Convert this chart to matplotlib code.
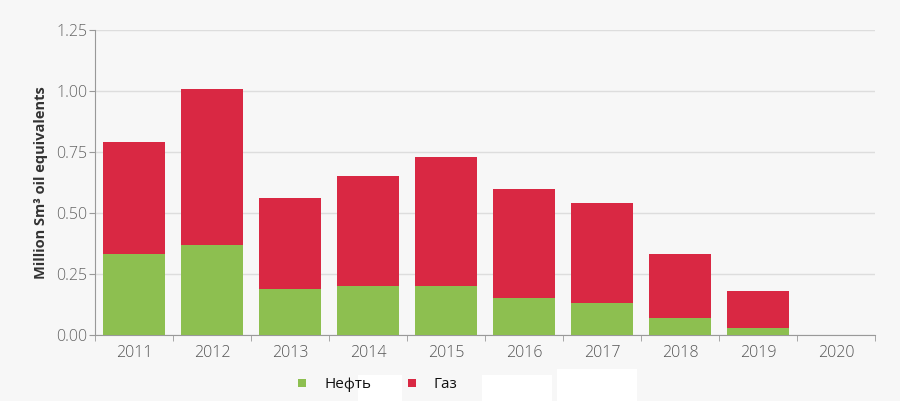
import matplotlib
matplotlib.use("Agg")
import matplotlib.pyplot as plt
from matplotlib.patches import Rectangle
import numpy as np

years = ["2011", "2012", "2013", "2014", "2015", "2016", "2017", "2018", "2019", "2020"]
oil = [0.33, 0.37, 0.19, 0.20, 0.20, 0.15, 0.13, 0.07, 0.03, 0.0]
gas = [0.46, 0.64, 0.37, 0.45, 0.53, 0.45, 0.41, 0.26, 0.15, 0.0]
yticks = [0.0, 0.25, 0.50, 0.75, 1.00, 1.25]
ytick_labels = ["0.00", "0.25", "0.50", "0.75", "1.00", "1.25"]

plt.rcParams['font.family'] = ['Open Sans', 'DejaVu Sans']
bg = "#f7f7f7"
fig = plt.figure(figsize=(9, 4.01), dpi=100, facecolor=bg)
ax = fig.add_axes([95/900, 1-335/401, 780/900, 305/401])
ax.set_facecolor(bg)

x = np.arange(len(years))
green = "#8dbf50"
red = "#d92843"
ax.bar(x, oil, width=0.8, color=green, zorder=3, label="Нефть")
ax.bar(x, gas, bottom=oil, width=0.8, color=red, zorder=3, label="Газ")

ax.set_xlim(-0.5, len(years)-0.5)
ax.set_ylim(0, 1.25)
ax.set_yticks(yticks)
ax.set_yticklabels(ytick_labels, fontweight='light')
ax.set_xticks(x)
ax.set_xticklabels(years, fontweight='light')
ax.set_xticks(np.arange(-0.5, len(years)), minor=True)
ax.tick_params(axis='x', which='major', length=0, pad=7, labelsize=11.5, labelcolor="#555555")
ax.tick_params(axis='x', which='minor', length=4, color="#999999", direction='out')
ax.tick_params(axis='y', length=4, color="#999999", labelsize=11.5, labelcolor="#666666", pad=1.5)
ax.grid(axis='y', color="#dddddd", linewidth=1, zorder=0)
for s in ['top', 'right']:
    ax.spines[s].set_visible(False)
for s in ['left', 'bottom']:
    ax.spines[s].set_color("#999999")
ax.set_ylabel("Million Sm³ oil equivalents", fontsize=10.5, fontweight='bold', color="#333333", labelpad=6)

# white artifacts in legend area
for (x0, y0, w, h) in [(358, 375, 44, 26), (482, 375, 70, 26), (557, 369, 80, 32)]:
    fig.patches.append(Rectangle((x0/900, 1-(y0+h)/401), w/900, h/401, transform=fig.transFigure,
                                 facecolor="white", edgecolor="none", zorder=0))

leg = fig.legend(loc='center', bbox_to_anchor=(378/900, 1-385/401), ncol=2, frameon=False,
                 handlelength=0.5, handleheight=0.5, handletextpad=1.2, columnspacing=2.4,
                 fontsize=11)
for t in leg.get_texts():
    t.set_color("#111111")

fig.savefig("out.png", dpi=100, facecolor=bg)
